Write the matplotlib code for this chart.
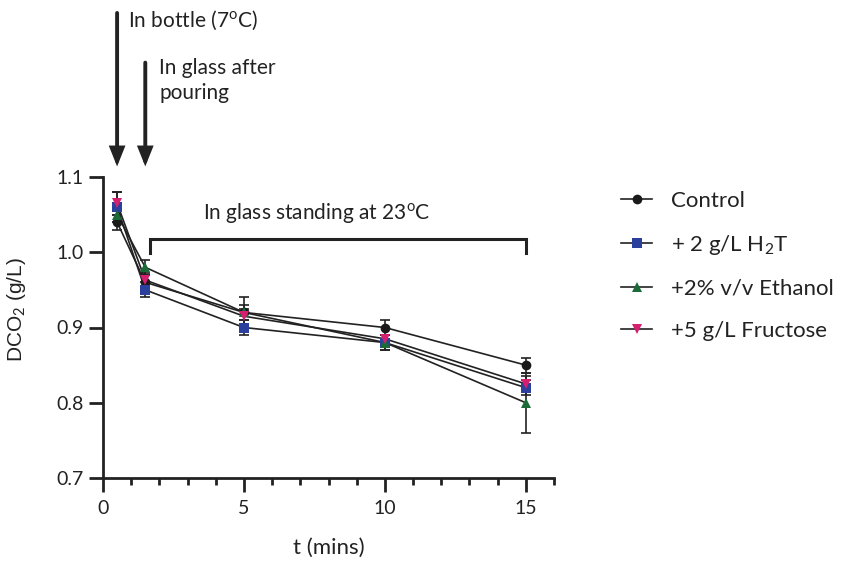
import matplotlib
matplotlib.use("Agg")
import matplotlib.pyplot as plt
from matplotlib.lines import Line2D

plt.rcParams['font.family'] = ['Lato', 'DejaVu Sans']
plt.rcParams['mathtext.fontset'] = 'custom'
plt.rcParams['mathtext.rm'] = 'Lato'
plt.rcParams['mathtext.it'] = 'Lato'

t = [0.5, 1.5, 5, 10, 15]
control = [1.04, 0.96, 0.92, 0.90, 0.85]
control_err = [0.01, 0.01, 0.02, 0.01, 0.01]
h2t = [1.06, 0.95, 0.90, 0.88, 0.82]
h2t_err = [0.02, 0.01, 0.01, 0.01, 0.01]
ethanol = [1.05, 0.98, 0.92, 0.88, 0.80]
ethanol_err = [0.01, 0.01, 0.01, 0.01, 0.04]
fructose = [1.065, 0.963, 0.915, 0.885, 0.825]
fructose_err = [0.015, 0.01, 0.01, 0.005, 0.01]

labels = ['Control', '+ 2 g/L H$_2$T', '+2% v/v Ethanol', '+5 g/L Fructose']
colors = ['#1a1a1a', '#2b3f9c', '#1b6b38', '#d4206e']
markers = ['o', 's', '^', 'v']
series = [(control, control_err), (h2t, h2t_err), (ethanol, ethanol_err), (fructose, fructose_err)]

fig = plt.figure(figsize=(8.47, 5.64), dpi=100)
ax = fig.add_axes([103/847, 1-478/564, (554-103)/847, (478-177)/564])

for (vals, err), c, m in zip(series, colors, markers):
    ax.errorbar(t, vals, yerr=err, fmt='none', ecolor='#222222', elinewidth=1.2,
                capsize=3.5, capthick=1.2, zorder=2)
    ax.plot(t, vals, color='#222222', lw=1.2, zorder=3)
    ax.plot(t, vals, linestyle='none', marker=m, color=c, markersize=7,
            markeredgewidth=0, zorder=4)

ax.set_xlim(0, 16)
ax.set_ylim(0.7, 1.1)
ax.set_xticks([0, 5, 10, 15])
ax.set_xticks(range(0, 17), minor=True)
ax.set_yticks([0.7, 0.8, 0.9, 1.0, 1.1])
ax.set_yticklabels(['0.7', '0.8', '0.9', '1.0', '1.1'])
for s in ['top', 'right']:
    ax.spines[s].set_visible(False)
for s in ['left', 'bottom']:
    ax.spines[s].set_linewidth(2)
    ax.spines[s].set_color('#222222')
ax.tick_params(which='major', length=10, width=2, color='#222222', labelsize=14, labelcolor='#222222')
ax.tick_params(which='minor', length=5, width=2, color='#222222')
ax.tick_params(axis='x', pad=6)
ax.tick_params(axis='y', pad=4)
ax.set_xlabel('t (mins)', fontsize=16, color='#222222')
ax.xaxis.set_label_coords(0.5, -0.2)
ax.set_ylabel('DCO$_2$ (g/L)', fontsize=15, color='#222222', family='Liberation Sans')
ax.yaxis.set_label_coords(-0.166, 0.56)

# arrows
arrowprops = dict(arrowstyle='-|>,head_length=0.55,head_width=0.22', lw=2.8, color='#222222',
                  mutation_scale=18, shrinkA=0, shrinkB=0, joinstyle='miter')
ax.annotate('', xy=(0.5, 1.114), xytext=(0.5, 1.318), xycoords='data', arrowprops=arrowprops, annotation_clip=False)
ax.annotate('', xy=(1.5, 1.114), xytext=(1.5, 1.252), xycoords='data', arrowprops=arrowprops, annotation_clip=False)
ax.text(0.9, 1.308, 'In bottle (7$^{\\mathrm{o}}$C)', fontsize=15, ha='left', va='center', color='#222222', clip_on=False)
ax.text(2.0, 1.228, 'In glass after\npouring', fontsize=15, ha='left', va='center', color='#222222',
        linespacing=1.35, clip_on=False)

# bracket
ax.plot([1.65, 1.65, 15, 15], [0.999, 1.0175, 1.0175, 0.999], color='#222222', lw=2.2,
        clip_on=False, solid_joinstyle='miter')
ax.text(7.6, 1.052, 'In glass standing at 23$^{\\mathrm{o}}$C', fontsize=15, ha='center', va='center', color='#222222')

handles = [Line2D([], [], color='#222222', lw=1.2, marker=m, markerfacecolor=c,
                  markeredgewidth=0, markersize=7) for c, m in zip(colors, markers)]
fig.legend(handles, labels, loc='upper left', bbox_to_anchor=(0.7095, 0.697), frameon=False,
           fontsize=16, handlelength=1.4, handletextpad=0.85, labelspacing=0.99, labelcolor='#222222')

fig.savefig('out.png', dpi=100)
